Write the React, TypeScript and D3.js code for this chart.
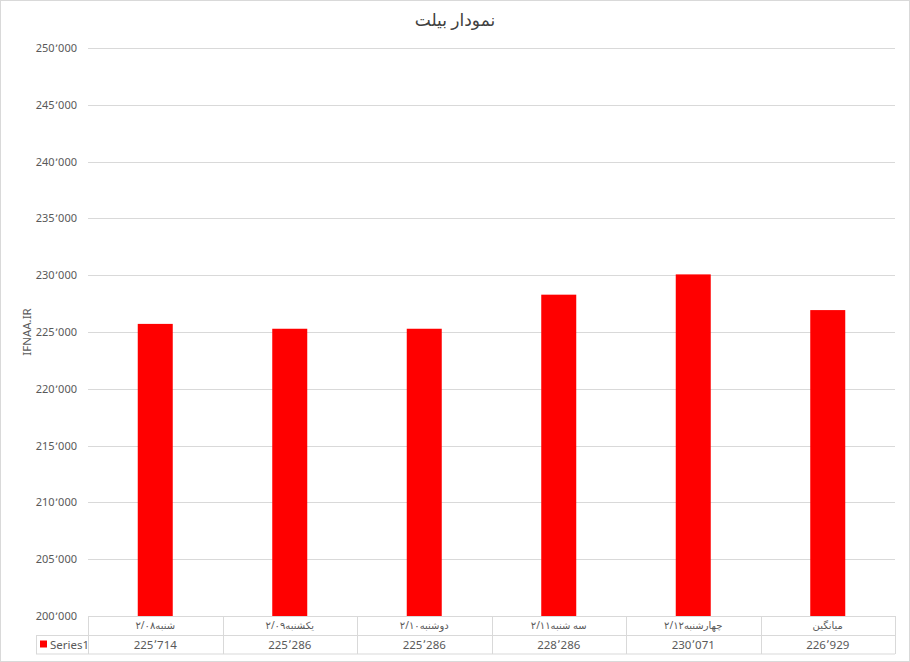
import React from "react";
import * as d3 from "d3";

const categories = ["شنبه۲/۰۸", "یکشنبه۲/۰۹", "دوشنبه۲/۱۰", "سه شنبه۲/۱۱", "چهارشنبه۲/۱۲", "میانگین"];
const values = [225714, 225286, 225286, 228286, 230071, 226929];
const valueLabels = ["225٬714", "225٬286", "225٬286", "228٬286", "230٬071", "226٬929"];
const yTicks = [200000, 205000, 210000, 215000, 220000, 225000, 230000, 235000, 240000, 245000, 250000];
const seriesName = "Series1";
const title = "نمودار بیلت";
const yTitle = "IFNAA.IR";

const W = 910;
const H = 662;
const left = 88;
const right = 895;
const top = 48;
const bottom = 616;
const row1 = 635.5;
const row2 = 654;
const legendLeft = 36;

const fmt = (v: number) => {
  const s = String(v);
  return s.slice(0, s.length - 3) + "٬" + s.slice(-3);
};

export default function App() {
  const x = d3.scaleBand<string>().domain(categories).range([left, right]).padding(0);
  const y = d3.scaleLinear().domain([200000, 250000]).range([bottom, top]);
  const barW = 35;
  const font = "'Noto Sans', 'DejaVu Sans', sans-serif";
  const grid = "#d9d9d9";
  const txt = "#595959";
  return (
    <div style={{ position: "fixed", left: 0, top: 0 }}>
      <svg width={W} height={H} style={{ display: "block", fontFamily: font }}>
        <rect x={0} y={0} width={W} height={H} fill="#fff" />
        <rect x={0.5} y={0.5} width={W - 1} height={H - 1} fill="none" stroke="#d9d9d9" />
        <text x={W / 2} y={26} textAnchor="middle" fontSize={17} fill="#404040" direction="rtl">{title}</text>
        {yTicks.map((t) => (
          <g key={t}>
            <line x1={left} x2={right} y1={Math.round(y(t)) + 0.5} y2={Math.round(y(t)) + 0.5} stroke={grid} />
            <text x={77} y={y(t) + 4} textAnchor="end" fontSize={11} fill={txt}>{fmt(t)}</text>
          </g>
        ))}
        <text transform={`translate(31, ${(top + bottom) / 2}) rotate(-90)`} textAnchor="middle" fontSize={11.5} fill={txt}>{yTitle}</text>
        {categories.map((c, i) => (
          <rect key={c} x={x(c)! + x.bandwidth() / 2 - barW / 2} y={y(values[i])} width={barW} height={bottom - y(values[i])} fill="#ff0000" />
        ))}
        {/* data table */}
        <g stroke={grid} fill="none">
          <line x1={left} x2={right} y1={bottom + 0.5} y2={bottom + 0.5} />
          <line x1={legendLeft} x2={right} y1={row1} y2={row1} />
          <line x1={legendLeft} x2={right} y1={row2} y2={row2} />
          <line x1={legendLeft + 0.5} x2={legendLeft + 0.5} y1={row1} y2={row2} />
          {categories.map((c) => (
            <line key={c} x1={Math.round(x(c)!) + 0.5} x2={Math.round(x(c)!) + 0.5} y1={bottom} y2={row2} />
          ))}
          <line x1={right + 0.5} x2={right + 0.5} y1={bottom} y2={row2} />
        </g>
        {categories.map((c, i) => (
          <g key={c}>
            <text x={x(c)! + x.bandwidth() / 2} y={bottom + 13} textAnchor="middle" fontSize={10} fill={txt} direction="rtl">{c}</text>
            <text x={x(c)! + x.bandwidth() / 2} y={row1 + 13.5} textAnchor="middle" fontSize={11.5} fill={txt}>{valueLabels[i]}</text>
          </g>
        ))}
        <rect x={40} y={row1 + 5} width={7} height={7} fill="#ff0000" />
        <text x={50} y={row1 + 13.5} fontSize={11.5} fill={txt}>{seriesName}</text>
      </svg>
    </div>
  );
}
